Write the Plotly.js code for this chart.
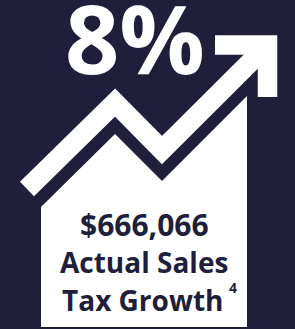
<!DOCTYPE html>
<html>
<head>
<meta charset="utf-8">
<script src="https://cdn.plot.ly/plotly-3.0.1.min.js"></script>
<style>
html,body{margin:0;padding:0;background:#201f3b;}
#chart{width:295px;height:329px;}
.js-line{stroke-linejoin:miter !important;stroke-linecap:butt !important;}
</style>
</head>
<body>
<div id="chart"></div>
<script>
// Trend line (zig-zag arrow) values
var trendX = [27, 115, 162, 267.5];
var trendY = [140, 226.5, 179, 284];
// Arrow head arms
var headX = [215, 267.5, 267.5];
var headY = [284, 284, 232];
// Filled area beneath the trend
var areaX = [41, 41, 115, 162, 247, 247, 41];
var areaY = [2, 122, 195, 148, 233, 2, 2];

var headline = "8%";
var amount = "$666,066";
var label1 = "Actual Sales";
var label2 = "Tax Growth";
var footnote = "4";

var navy = "#201f3b";

var traces = [
  {x: areaX, y: areaY, mode: "lines", fill: "toself", fillcolor: "#ffffff",
   line: {width: 0, color: "#ffffff"}, hoverinfo: "skip"},
  {x: trendX, y: trendY, mode: "lines", line: {width: 20, color: "#ffffff"}, hoverinfo: "skip"},
  {x: headX, y: headY, mode: "lines", line: {width: 19.5, color: "#ffffff"}, hoverinfo: "skip"}
];

var layout = {
  width: 295, height: 329,
  margin: {l: 0, r: 0, t: 0, b: 0, pad: 0},
  paper_bgcolor: navy, plot_bgcolor: navy,
  showlegend: false,
  xaxis: {range: [0, 295], visible: false, fixedrange: true},
  yaxis: {range: [0, 329], visible: false, fixedrange: true},
  annotations: [
    {text: headline, x: 135, y: 292, xref: "x", yref: "y", showarrow: false,
     xanchor: "center", yanchor: "middle",
     font: {family: "Open Sans", size: 95, color: "#ffffff", weight: 700}},
    {text: amount, x: 144.5, y: 105, xref: "x", yref: "y", showarrow: false,
     xanchor: "center", yanchor: "middle",
     font: {family: "Open Sans", size: 30, color: navy, weight: 700}},
    {text: label1, x: 144, y: 67, xref: "x", yref: "y", showarrow: false,
     xanchor: "center", yanchor: "middle",
     font: {family: "Open Sans", size: 28, color: navy, weight: 700}},
    {text: label2, x: 142.5, y: 29, xref: "x", yref: "y", showarrow: false,
     xanchor: "center", yanchor: "middle",
     font: {family: "Open Sans", size: 28, color: navy, weight: 700}},
    {text: footnote, x: 233, y: 42, xref: "x", yref: "y", showarrow: false,
     xanchor: "center", yanchor: "middle",
     font: {family: "Open Sans", size: 14, color: navy, weight: 700}}
  ]
};

Plotly.newPlot("chart", traces, layout, {displayModeBar: false, staticPlot: true});
</script>
</body>
</html>
